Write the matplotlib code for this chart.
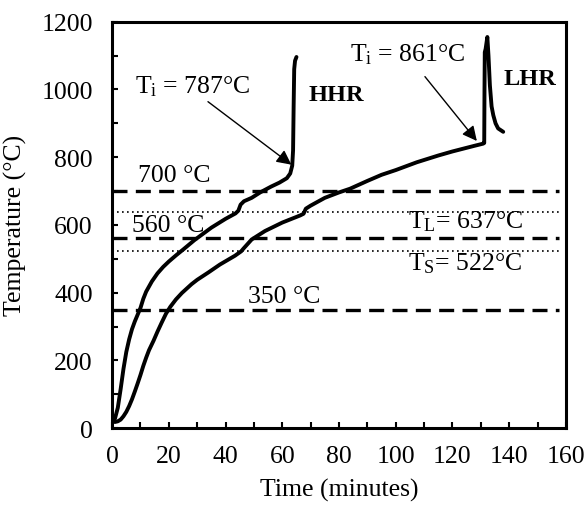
import matplotlib
matplotlib.use("Agg")
import matplotlib.pyplot as plt
from matplotlib.ticker import MultipleLocator

plt.rcParams['font.family'] = ['Liberation Serif', 'DejaVu Serif']
plt.rcParams['mathtext.fontset'] = 'custom'
plt.rcParams['mathtext.rm'] = 'Liberation Serif'
plt.rcParams['mathtext.it'] = 'Liberation Serif:italic'
plt.rcParams['mathtext.bf'] = 'Liberation Serif:bold'

# HHR curve (time in minutes, temperature in C)
hhr_t = [0, 1, 2, 3, 4, 5, 6, 7, 8, 9, 10, 11, 12, 14, 16, 18, 20, 22.5, 25, 29,
         35, 40, 43.5, 44.5, 45.3, 46.5, 49.2, 52.2, 56, 59, 61.6, 62.8, 63.5, 63.8,
         64.0, 64.2, 64.5, 65.0]
hhr_T = [20, 28, 60, 115, 175, 225, 262, 292, 315, 335, 355, 382, 403, 433, 457, 476,
         492, 510, 527, 555, 592, 618, 634, 642, 660, 670, 680, 696, 713, 725, 738, 752,
         775, 820, 950, 1060, 1085, 1096]

# LHR curve
lhr_t = [0, 1, 2, 3, 4, 5, 6, 7, 8, 9, 10, 11, 12, 13, 14.6, 16, 17.5, 19, 20.5,
         22.5, 24.6, 28, 30, 34, 38, 43.3, 45.5, 46.3, 49.2, 53.9, 60, 66.3,
         67.5, 68.3, 70, 75, 80, 83.9, 90, 95, 100, 107.4, 115, 120, 127.9, 130.8,
         131.2, 131.3, 131.4, 131.7, 132.3, 132.7, 133.2, 133.8, 134.4, 135.2, 136.1,
         137.9]
lhr_T = [20, 18, 20, 25, 35, 48, 65, 85, 108, 132, 157, 184, 208, 230, 258, 285, 312,
         338, 358, 380, 399, 425, 438, 460, 483, 509, 522, 530, 557, 582, 607, 628,
         633, 648, 657, 680, 696, 707, 730, 748, 762, 785, 805, 817, 834, 840,
         842, 1000, 1110, 1120, 1155, 1100, 1012, 950, 924, 900, 885, 875]

dashed_levels = [700, 560, 350]
dotted_levels = [637, 522]

fig = plt.figure(figsize=(5.84, 5.06), dpi=100)
ax = fig.add_axes([0.192, 0.152, 0.777, 0.803])

for lv in dashed_levels:
    ax.axhline(lv, xmin=0, xmax=0.985, color='black', lw=2.4, dashes=(4.5, 2.5))
for lv in dotted_levels:
    ax.axhline(lv, xmin=0, xmax=0.985, color='black', lw=1.2, linestyle=(0, (1, 2)))

ax.plot(hhr_t, hhr_T, color='black', lw=2.8, solid_capstyle='round', solid_joinstyle='round')
ax.plot(lhr_t, lhr_T, color='black', lw=2.8, solid_capstyle='round', solid_joinstyle='round')

fs = 18.5
ax.text(9.2, 746, '700 °C', fontsize=fs, va='center', ha='left')
ax.text(7.0, 600, '560 °C', fontsize=fs, va='center', ha='left')
ax.text(47.9, 390, '350 °C', fontsize=fs, va='center', ha='left')
ax.text(104.3, 612, r'T$_\mathrm{L}$= 637°C', fontsize=fs, va='center', ha='left')
ax.text(104.3, 488, r'T$_\mathrm{S}$= 522°C', fontsize=fs, va='center', ha='left')
ax.text(69.1, 986, 'HHR', fontsize=17.5, fontweight='bold', va='center', ha='left')
ax.text(138.1, 1033, 'LHR', fontsize=17.5, fontweight='bold', va='center', ha='left')

arrow = dict(arrowstyle='-|>', lw=1.0, color='black', mutation_scale=22, shrinkA=0, shrinkB=0)
ax.text(8.1, 1011, r'T$_\mathrm{i}$ = 787°C', fontsize=fs, va='center', ha='left')
ax.annotate('', xy=(63.2, 778), xytext=(33.8, 964), arrowprops=arrow)
ax.text(83.9, 1105, r'T$_\mathrm{i}$ = 861°C', fontsize=fs, va='center', ha='left')
ax.annotate('', xy=(128.6, 848), xytext=(110.3, 1038), arrowprops=arrow)

ax.set_xlim(0, 160)
ax.set_ylim(0, 1200)
ax.xaxis.set_major_locator(MultipleLocator(20))
ax.xaxis.set_minor_locator(MultipleLocator(10))
ax.yaxis.set_major_locator(MultipleLocator(200))
ax.yaxis.set_minor_locator(MultipleLocator(100))
ax.tick_params(which='both', direction='in', length=4, width=1.5, labelsize=fs)
ax.tick_params(axis='y', which='major', pad=14)
ax.tick_params(axis='x', which='major', pad=12)
for s in ax.spines.values():
    s.set_linewidth(2.2)

ax.set_xlabel('Time (minutes)', fontsize=fs, labelpad=8)
ax.set_ylabel('Temperature (°C)', fontsize=fs, labelpad=10)

fig.savefig('out.png', dpi=100)
